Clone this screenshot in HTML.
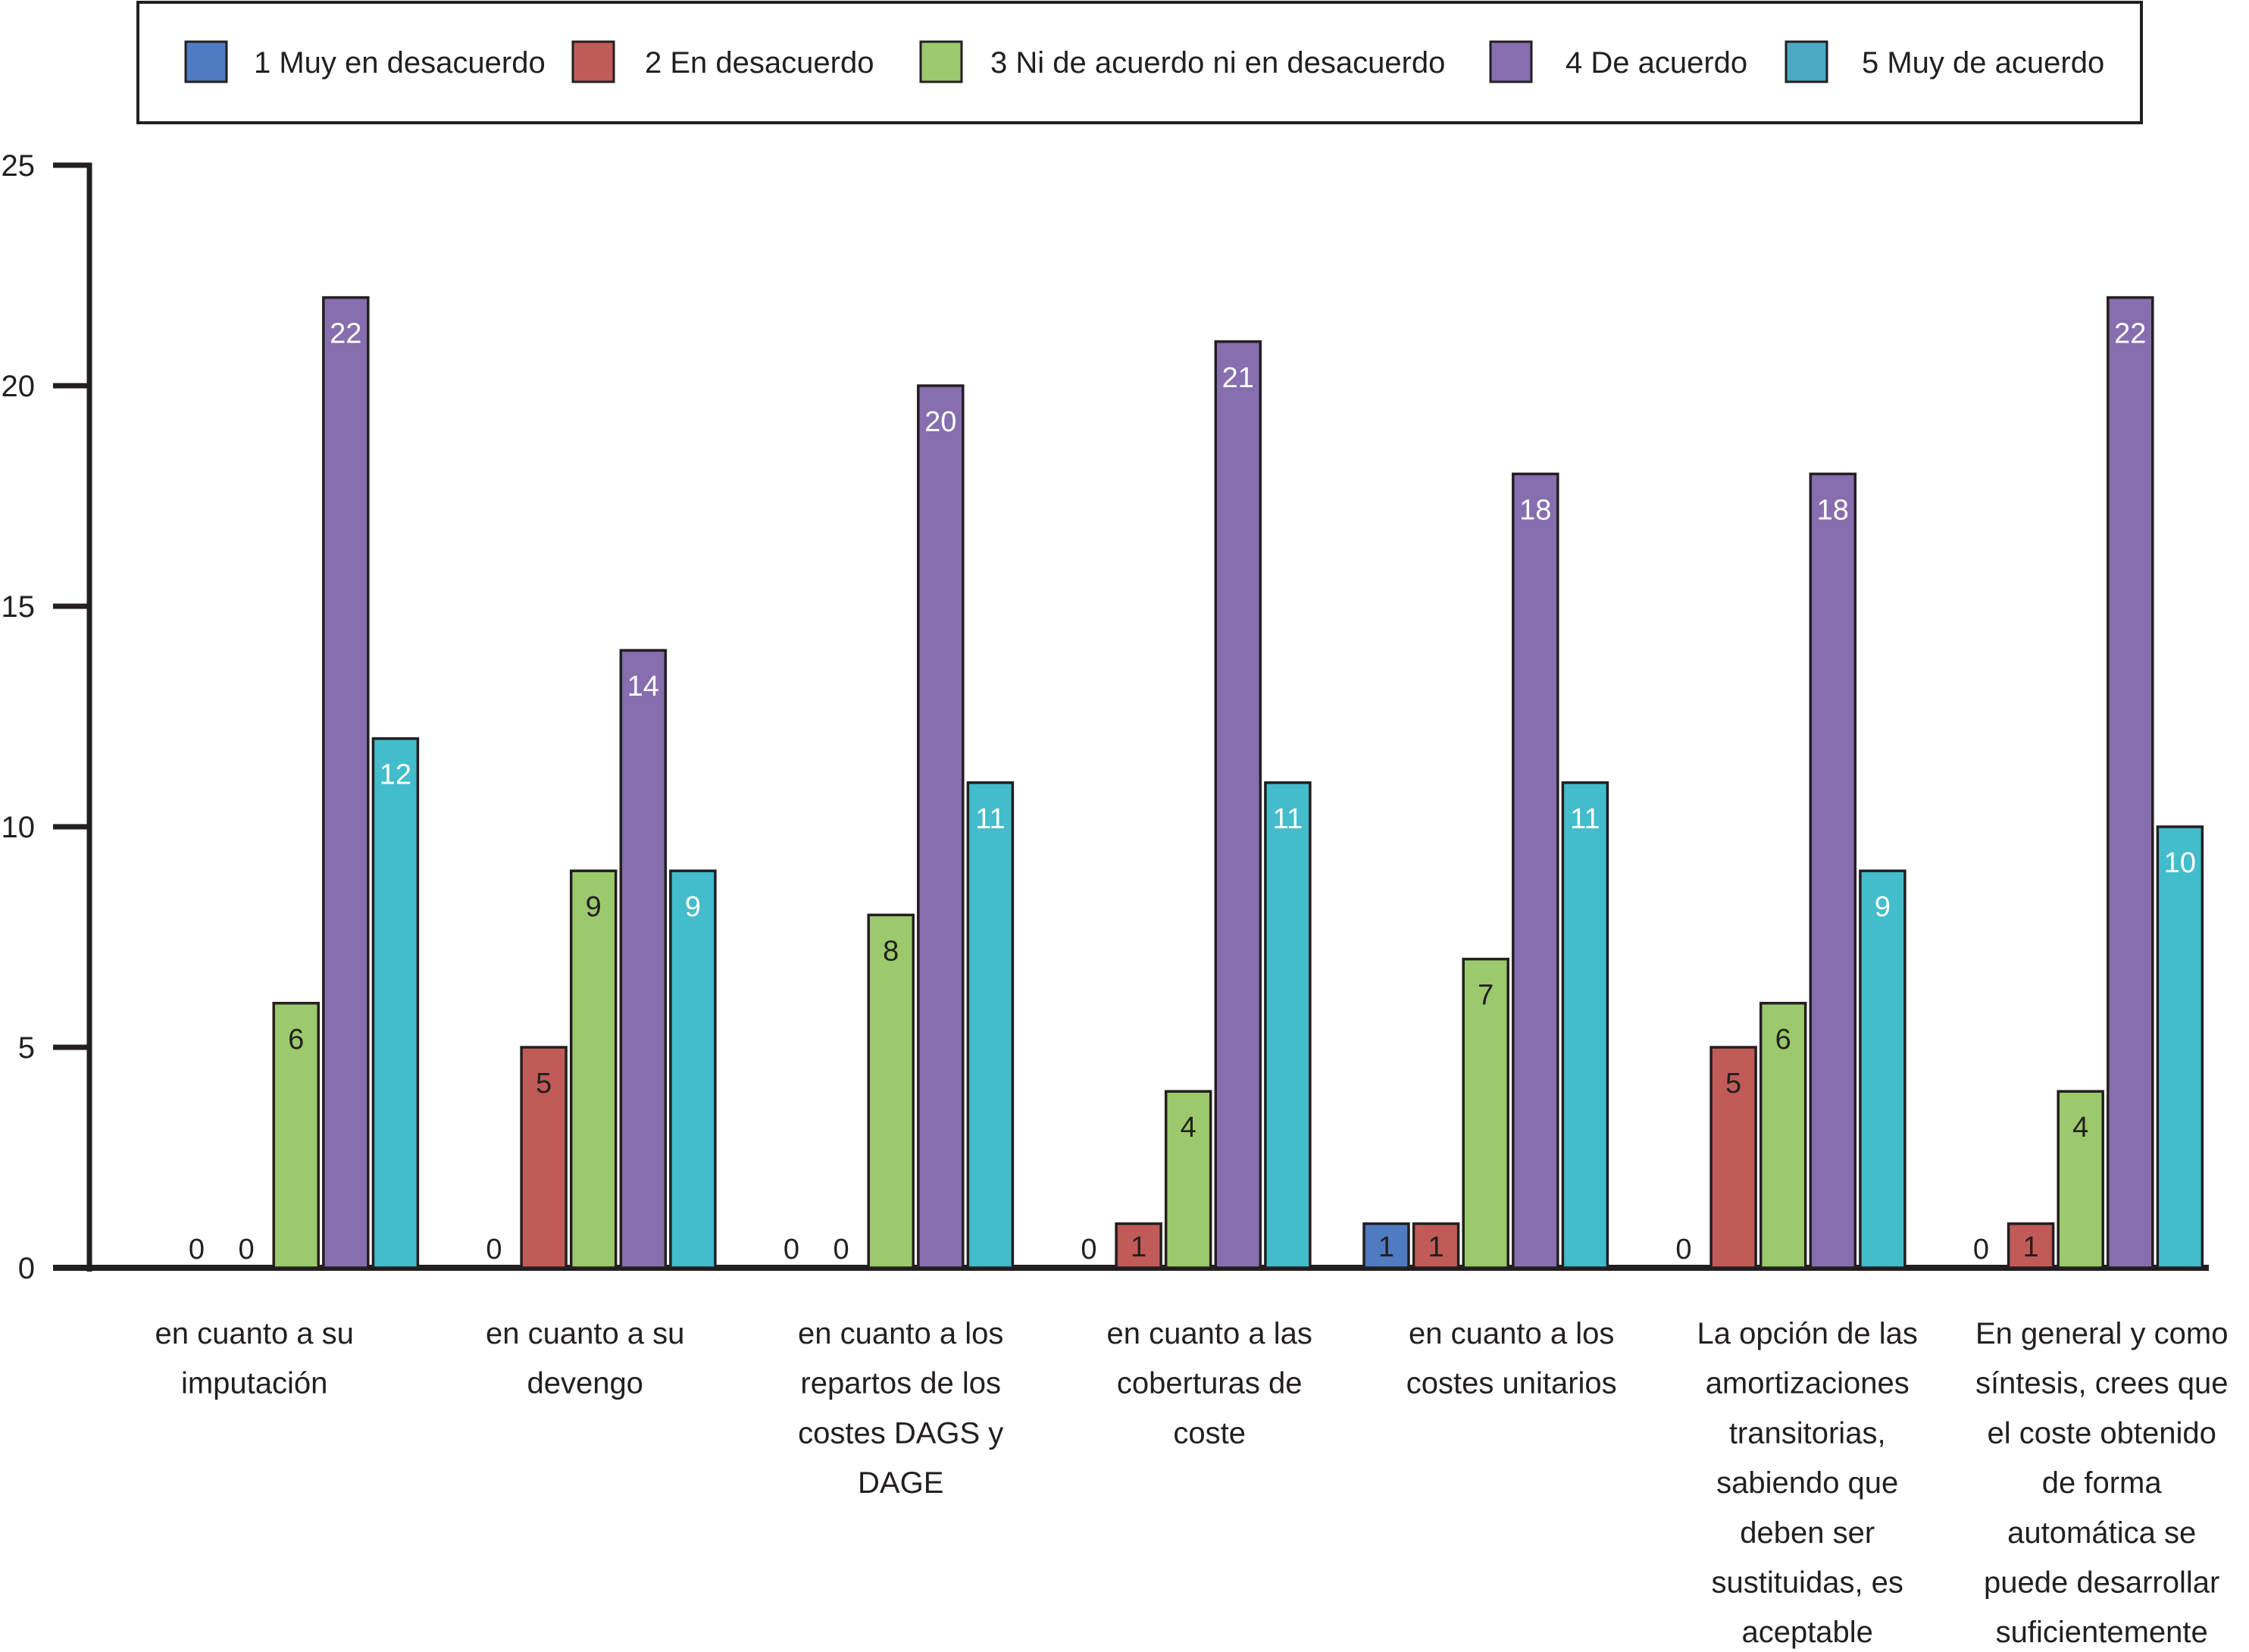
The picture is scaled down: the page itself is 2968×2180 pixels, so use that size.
<!DOCTYPE html>
<html><head><meta charset="utf-8">
<style>
html,body{margin:0;padding:0;background:#fff;}
svg{display:block;font-family:"Liberation Sans",Arial,sans-serif;}
</style></head>
<body>
<svg id="chart" width="2968" height="2180" viewBox="0 0 2968 2180" xmlns="http://www.w3.org/2000/svg">
<rect x="0" y="0" width="2968" height="2180" fill="#fff"/>
<g id="legend">
<rect x="182" y="3" width="2644" height="159" fill="#fff" stroke="#231f20" stroke-width="4"/>
</g>
<g id="axes"></g>
<g id="bars"></g>
<g id="labels"></g>
</svg>
<script>
const categories = [
  ["en cuanto a su","imputación"],
  ["en cuanto a su","devengo"],
  ["en cuanto a los","repartos de los","costes DAGS y","DAGE"],
  ["en cuanto a las","coberturas  de","coste"],
  ["en cuanto a los","costes unitarios"],
  ["La opción de las","amortizaciones","transitorias,","sabiendo que","deben ser","sustituidas, es","aceptable"],
  ["En general  y como","síntesis, crees que","el coste obtenido","de forma","automática se","puede desarrollar","suficientemente"]
];
const seriesNames = ["1 Muy en desacuerdo","2 En desacuerdo","3 Ni de acuerdo  ni en desacuerdo","4 De acuerdo","5 Muy de acuerdo"];
const s1 = [0,0,0,0,1,0,0];
const s2 = [0,5,0,1,1,5,1];
const s3 = [6,9,8,4,7,6,4];
const s4 = [22,14,20,21,18,18,22];
const s5 = [12,9,11,11,11,9,10];
const yTicks = [0,5,10,15,20,25];

const series = [s1,s2,s3,s4,s5];
const colors = ["#4f7bc0","#c05b57","#9cc96b","#866eaf","#43bccb"];
const legendColors = ["#4f7bc0","#c05b57","#9cc96b","#866eaf","#4aa9c3"];
const labelColors = ["#231f20","#231f20","#231f20","#ffffff","#ffffff"];
const labelNudge = [-55,-11,13,28,34,32,28];
const NS = "http://www.w3.org/2000/svg";
const Y0 = 1673, Y25 = 218;
function yScale(v){ return Y0 - (Y0 - Y25) * v / 25; }
const groupStart = 230, groupStep = 392.5, barStep = 65.6, barW = 59;
function xBar(g, s){ return groupStart + g * groupStep + s * barStep; }
function groupCenter(g){ return xBar(g,0) + (4*barStep + barW)/2; }
function mk(tag, attrs, parent){
  const e = document.createElementNS(NS, tag);
  for (const k in attrs) e.setAttribute(k, attrs[k]);
  parent.appendChild(e);
  return e;
}
const legend = document.getElementById('legend');
const swX = [245,756,1215,1967,2357];
const txX = [335,851,1307,2066,2457];
seriesNames.forEach((n,i)=>{
  const r = mk('rect',{x:swX[i],y:55,width:54,height:53,fill:legendColors[i],stroke:'#231f20','stroke-width':3},legend);
  
  
  const t = mk('text',{x:txX[i],y:96,'font-size':40,fill:'#231f20','xml:space':'preserve'},legend);
  t.textContent = n;
  
  
});
const axes = document.getElementById('axes');
const yAxis = mk('line',{x1:118,y1:Y25-3,x2:118,y2:Y0+5,stroke:'#231f20','stroke-width':7},axes);


yTicks.forEach(v=>{
  const y = yScale(v);
  const tk = mk('line',{x1:70,y1:y,x2:121,y2:y,stroke:'#231f20','stroke-width':7},axes);
  
  
  const t = mk('text',{x:46,y:y+14,'font-size':40,'text-anchor':'end',fill:'#231f20'},axes);
  t.textContent = v;
  
  
});
const bars = document.getElementById('bars');
const labels = document.getElementById('labels');
categories.forEach((cat,g)=>{
  series.forEach((arr,s)=>{
    const v = arr[g];
    const x = xBar(g,s);
    const top = yScale(v);
    const h = Y0 - top;
    if (v > 0){
      const r = mk('rect',{x:x,y:top,width:barW,height:h,fill:colors[s],stroke:'#231f20','stroke-width':3.5},bars);
      
      
    }
    let ly = v > 0 ? top + Math.min(46, h/2) + 14 : Y0 - 12;
    const t = mk('text',{x:x+barW/2,y:ly,'font-size':38,'text-anchor':'middle',fill: v>0 ? labelColors[s] : '#231f20'},labels);
    t.textContent = v;
    
    
  });
  const cx = groupCenter(g) + labelNudge[g];
  cat.forEach((line,li)=>{
    const t = mk('text',{x:cx,y:1773+li*65.7,'font-size':40,'text-anchor':'middle',fill:'#231f20','xml:space':'preserve'},labels);
    t.textContent = line;
    
    
  });
});
const xAxis = mk('line',{x1:70,y1:Y0,x2:2915,y2:Y0,stroke:'#231f20','stroke-width':8},axes);


</script>
</body></html>
